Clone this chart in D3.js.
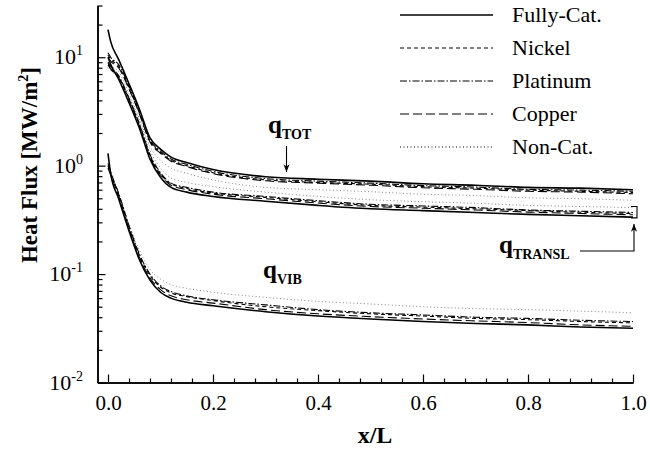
<!DOCTYPE html>
<html>
<head>
<meta charset="utf-8">
<script src="https://cdn.jsdelivr.net/npm/d3@7"></script>
<style>
  body { margin: 0; background: #fff; }
</style>
</head>
<body>
<div id="chart"></div>
<script>
// x/L stations shared by every curve
const xPos = [0, 0.005, 0.02, 0.04, 0.06, 0.08, 0.1, 0.12, 0.15, 0.2, 0.3, 0.4, 0.5, 0.6, 0.7, 0.8, 0.9, 1.0];

// total heat flux [MW/m2]
const fullyTot    = [18, 14, 9.6, 5.7, 3.3, 1.8, 1.42, 1.2, 1.07, 0.92, 0.79, 0.75, 0.72, 0.68, 0.66, 0.63, 0.62, 0.60];
const nickelTot   = [10.5, 9.6, 8.3, 5.2, 3.05, 1.68, 1.33, 1.12, 1.0, 0.86, 0.74, 0.70, 0.675, 0.64, 0.62, 0.595, 0.58, 0.565];
const platinumTot = [11, 10, 8.6, 5.4, 3.15, 1.73, 1.36, 1.15, 1.03, 0.885, 0.76, 0.72, 0.69, 0.655, 0.635, 0.605, 0.595, 0.58];
const copperTot   = [10, 9.2, 8.0, 5.1, 2.98, 1.65, 1.3, 1.1, 0.98, 0.845, 0.725, 0.69, 0.66, 0.625, 0.605, 0.58, 0.57, 0.55];
const nonCatTot   = [9, 8.4, 7.4, 4.6, 2.7, 1.5, 1.12, 0.95, 0.85, 0.74, 0.63, 0.60, 0.575, 0.545, 0.53, 0.505, 0.495, 0.48];

// translational heat flux
const fullyTransl    = [10, 8.6, 6.3, 3.8, 2.2, 1.15, 0.78, 0.63, 0.57, 0.52, 0.47, 0.43, 0.40, 0.385, 0.37, 0.355, 0.345, 0.335];
const nickelTransl   = [8.8, 8.0, 6.6, 4.1, 2.38, 1.24, 0.84, 0.68, 0.615, 0.56, 0.51, 0.465, 0.43, 0.415, 0.40, 0.385, 0.372, 0.362];
const platinumTransl = [9, 8.2, 6.8, 4.2, 2.42, 1.27, 0.86, 0.69, 0.63, 0.57, 0.52, 0.475, 0.44, 0.425, 0.41, 0.39, 0.38, 0.37];
const copperTransl   = [8.5, 7.8, 6.5, 4.0, 2.3, 1.2, 0.82, 0.66, 0.6, 0.545, 0.495, 0.452, 0.42, 0.405, 0.39, 0.373, 0.362, 0.352];
const nonCatTransl   = [8, 7.5, 6.6, 4.3, 2.6, 1.38, 0.95, 0.77, 0.7, 0.64, 0.57, 0.52, 0.485, 0.465, 0.45, 0.43, 0.42, 0.41];

// vibrational heat flux
const fullyVib    = [1.3, 0.85, 0.5, 0.25, 0.135, 0.088, 0.068, 0.06, 0.055, 0.051, 0.045, 0.041, 0.0385, 0.0365, 0.035, 0.034, 0.0325, 0.0316];
const nickelVib   = [1.0, 0.85, 0.55, 0.27, 0.148, 0.097, 0.076, 0.067, 0.062, 0.057, 0.050, 0.046, 0.043, 0.041, 0.039, 0.038, 0.0365, 0.0355];
const platinumVib = [1.05, 0.88, 0.56, 0.28, 0.152, 0.1, 0.078, 0.069, 0.063, 0.058, 0.052, 0.047, 0.044, 0.042, 0.040, 0.039, 0.0375, 0.0365];
const copperVib   = [0.95, 0.82, 0.53, 0.26, 0.142, 0.092, 0.072, 0.063, 0.058, 0.054, 0.047, 0.043, 0.0405, 0.0385, 0.037, 0.0357, 0.034, 0.033];
const nonCatVib   = [1.0, 0.85, 0.56, 0.29, 0.165, 0.11, 0.09, 0.08, 0.074, 0.068, 0.061, 0.056, 0.053, 0.05, 0.048, 0.047, 0.0455, 0.044];

const catalysis = ["Fully-Cat.", "Nickel", "Platinum", "Copper", "Non-Cat."];
const xTickLabels = [0, 0.2, 0.4, 0.6, 0.8, 1.0];
const yDecades = [0.01, 0.1, 1, 10];
const yExponents = ["-2", "-1", "0", "1"];

const series = [
  { name: "Non-Cat.", curves: [nonCatTot, nonCatTransl, nonCatVib] },
  { name: "Copper", curves: [copperTot, copperTransl, copperVib] },
  { name: "Platinum", curves: [platinumTot, platinumTransl, platinumVib] },
  { name: "Nickel", curves: [nickelTot, nickelTransl, nickelVib] },
  { name: "Fully-Cat.", curves: [fullyTot, fullyTransl, fullyVib] }
];

const styles = {
  "Fully-Cat.": { dash: null, width: 1.6, color: "#000" },
  "Nickel": { dash: "4,3", width: 1.1, color: "#000" },
  "Platinum": { dash: "7,2,1.5,2", width: 1.1, color: "#000" },
  "Copper": { dash: "9,4", width: 1.1, color: "#000" },
  "Non-Cat.": { dash: "1,2.5", width: 0.9, color: "#777" }
};

const font = '"Liberation Serif", "Times New Roman", Times, serif';
const width = 650, height = 450;
const x = d3.scaleLinear().domain([-0.02, 1.0]).range([97.5, 633]);
const y = d3.scaleLog().domain([0.01, 30]).range([382.5, 5.5]);

const svg = d3.select("#chart").append("svg").attr("width", width).attr("height", height)
  .style("display", "block");

svg.append("clipPath").attr("id", "clip")
  .append("rect").attr("x", x.range()[0]).attr("y", y.range()[1])
  .attr("width", x.range()[1] - x.range()[0] + 2).attr("height", y.range()[0] - y.range()[1]);

const line = d3.line()
  .x((d, i) => x(xPos[i]))
  .y(d => y(d))
  .curve(d3.curveMonotoneX);

const plot = svg.append("g").attr("clip-path", "url(#clip)");
series.forEach(s => {
  const st = styles[s.name];
  s.curves.forEach(c => {
    plot.append("path")
      .attr("d", line(c))
      .attr("fill", "none")
      .attr("stroke", st.color)
      .attr("stroke-width", st.width)
      .attr("stroke-dasharray", st.dash);
  });
});

// axes, ticks pointing inward
const xMajor = d3.axisBottom(x).tickValues(xTickLabels).tickSizeInner(-8).tickSizeOuter(0)
  .tickPadding(13).tickFormat(d3.format(".1f"));
const xMinor = d3.axisBottom(x).tickValues(d3.range(0.04, 1.0, 0.04).filter(v => Math.abs(v / 0.2 - Math.round(v / 0.2)) > 0.01))
  .tickSizeInner(-4).tickSizeOuter(0).tickFormat("");

const gx = svg.append("g").attr("transform", `translate(0,${y.range()[0]})`);
gx.call(xMajor);
gx.append("g").call(xMinor);
gx.selectAll(".domain").attr("stroke-width", 1.5);
gx.selectAll("line").attr("stroke-width", 1.2);
gx.selectAll("text").attr("font-size", 21).attr("fill", "#000");

const minorY = y.ticks().filter(v => yDecades.indexOf(v) < 0);
const yMajorAxis = d3.axisLeft(y).tickValues(yDecades).tickSizeInner(-8).tickSizeOuter(0).tickFormat("");
const yMinorAxis = d3.axisLeft(y).tickValues(minorY).tickSizeInner(-5).tickSizeOuter(0).tickFormat("");
const gy = svg.append("g").attr("transform", `translate(${x.range()[0]},0)`);
gy.call(yMajorAxis);
gy.append("g").call(yMinorAxis);
gy.selectAll(".domain").attr("stroke-width", 1.5);
gy.selectAll("line").attr("stroke-width", 1.2);

yDecades.forEach((v, i) => {
  const t = svg.append("text")
    .attr("x", 83).attr("y", y(v) + 7)
    .attr("text-anchor", "end").attr("font-size", 22);
  t.append("tspan").text("10");
  t.append("tspan").attr("dy", -9).attr("font-size", 14).text(yExponents[i]);
});

// axis titles
svg.append("text")
  .attr("x", 375).attr("y", 443)
  .attr("text-anchor", "middle").attr("font-weight", "bold").attr("font-size", 24)
  .text("x/L");

const yt = svg.append("text")
  .attr("transform", "translate(37,165) rotate(-90)")
  .attr("text-anchor", "middle").attr("font-weight", "bold").attr("font-size", 23);
yt.append("tspan").text("Heat Flux [MW/m");
yt.append("tspan").attr("dy", -9).attr("font-size", 14).text("2");
yt.append("tspan").attr("dy", 9).text("]");

// legend
const legend = svg.append("g");
catalysis.forEach((name, i) => {
  const st = styles[name];
  const ly = 15 + i * 33;
  legend.append("line")
    .attr("x1", 400).attr("x2", 493).attr("y1", ly).attr("y2", ly)
    .attr("stroke", name === "Non-Cat." ? "#000" : st.color)
    .attr("stroke-width", name === "Fully-Cat." ? 1.3 : 1)
    .attr("stroke-dasharray", st.dash);
  legend.append("text")
    .attr("x", 512).attr("y", ly + 7)
    .attr("font-size", 22)
    .text(name);
});

// annotations
function qLabel(px, py, sub) {
  const t = svg.append("text").attr("x", px).attr("y", py)
    .attr("font-weight", "bold").attr("font-size", 25);
  t.append("tspan").text("q");
  t.append("tspan").attr("dy", 6).attr("font-size", 14).text(sub);
}
qLabel(268, 133, "TOT");
qLabel(263, 278, "VIB");
qLabel(499, 253, "TRANSL");

const defs = svg.append("defs");
defs.append("marker").attr("id", "arrow").attr("viewBox", "0 0 10 10")
  .attr("refX", 10).attr("refY", 5).attr("markerWidth", 7).attr("markerHeight", 9)
  .attr("orient", "auto")
  .append("path").attr("d", "M0,1 L10,5 L0,9 L3,5 Z").attr("fill", "#000");

svg.append("line")
  .attr("x1", x(0.34)).attr("x2", x(0.34)).attr("y1", 146).attr("y2", 172)
  .attr("stroke", "#000").attr("stroke-width", 1.1).attr("marker-end", "url(#arrow)");

svg.append("path")
  .attr("d", `M580,251 H${x(1.0) + 1} V224`)
  .attr("fill", "none").attr("stroke", "#000").attr("stroke-width", 1.1)
  .attr("marker-end", "url(#arrow)");

const bx = x(1.0) + 4;
svg.append("path")
  .attr("d", `M${bx - 6},${y(0.42)} H${bx} V${y(0.33)} H${bx - 6}`)
  .attr("fill", "none").attr("stroke", "#000").attr("stroke-width", 1.1);

// serif everywhere (axis groups set their own sans-serif attribute)
svg.selectAll("text").style("font-family", font);
</script>
</body>
</html>
